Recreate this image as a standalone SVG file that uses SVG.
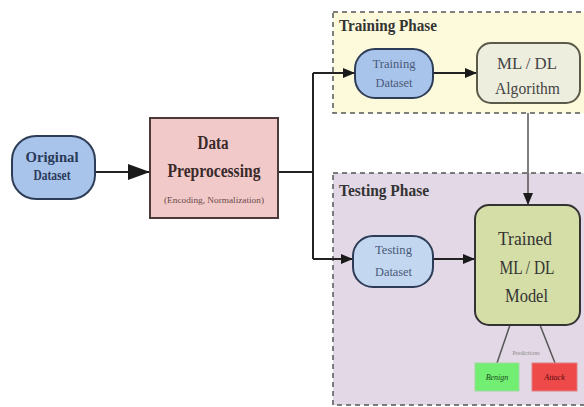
<svg xmlns="http://www.w3.org/2000/svg" width="584" height="407" viewBox="0 0 584 407">
<style>
.phase{stroke:#555;stroke-width:1.5;stroke-dasharray:5 4}
.t{font-family:"Liberation Serif","Times New Roman",serif;text-anchor:middle;dominant-baseline:central}
.title{font-family:"Liberation Serif","Times New Roman",serif;font-weight:bold;font-size:16px;fill:#333}
.c{fill:none;stroke:#222;stroke-width:2}
</style>
<defs>
<marker id="ah" markerWidth="12" markerHeight="10" refX="12" refY="5" orient="auto" markerUnits="userSpaceOnUse">
<path d="M0,0 L12,5 L0,10 Z" fill="#1a1a1a"/>
</marker>
<marker id="ahBig" markerWidth="22" markerHeight="16" refX="22" refY="8" orient="auto" markerUnits="userSpaceOnUse">
<path d="M0,0 L22,8 L0,16 Z" fill="#1a1a1a"/>
</marker>
</defs>
<rect width="584" height="407" fill="#ffffff"/>

<g id="training-phase">
<rect class="phase" x="333" y="12" width="262" height="101" fill="#fdfadc"/>
<text class="title" x="339" y="31" textLength="98" lengthAdjust="spacingAndGlyphs">Training Phase</text>
</g>
<g id="testing-phase">
<rect class="phase" x="333" y="173" width="262" height="232" fill="#e3d8e6"/>
<text class="title" x="339" y="196" textLength="90" lengthAdjust="spacingAndGlyphs">Testing Phase</text>
</g>

<g id="connectors">
<line class="c" x1="95" y1="172" x2="150" y2="172" marker-end="url(#ahBig)"/>
<polyline class="c" points="278,172 313,172"/>
<polyline class="c" points="313,73 313,259"/>
<line class="c" x1="313" y1="73" x2="355" y2="73" marker-end="url(#ah)"/>
<line class="c" x1="313" y1="259" x2="353" y2="259" marker-end="url(#ah)"/>
<line class="c" x1="433" y1="73" x2="477" y2="73" marker-end="url(#ah)"/>
<line class="c" x1="433" y1="259" x2="475" y2="259" marker-end="url(#ah)"/>
<line x1="528" y1="113" x2="528" y2="205" stroke="#555" stroke-width="1.5" marker-end="url(#ah)"/>
<line x1="510" y1="325" x2="497" y2="363" stroke="#555" stroke-width="1.5"/>
<line x1="540" y1="325" x2="555" y2="363" stroke="#555" stroke-width="1.5"/>
</g>

<g id="original-dataset">
<rect x="12" y="136" width="83" height="63" rx="24" fill="#a9c4ea" stroke="#2e3d57" stroke-width="2"/>
<text class="t" x="52" y="157" font-size="14" font-weight="bold" fill="#2a3a5a" textLength="53" lengthAdjust="spacingAndGlyphs">Original</text>
<text class="t" x="52" y="175" font-size="14" font-weight="bold" fill="#2a3a5a" textLength="37" lengthAdjust="spacingAndGlyphs">Dataset</text>
</g>

<g id="data-preprocessing">
<rect x="150" y="118" width="128" height="100" fill="#f2c9c9" stroke="#4a3a3a" stroke-width="2"/>
<text class="t" x="213" y="143" font-size="18" font-weight="bold" fill="#3a2a2a" textLength="31" lengthAdjust="spacingAndGlyphs">Data</text>
<text class="t" x="214" y="171" font-size="18" font-weight="bold" fill="#3a2a2a" textLength="93" lengthAdjust="spacingAndGlyphs">Preprocessing</text>
<text class="t" x="214" y="200" font-size="9" fill="#6a4a4a" textLength="100" lengthAdjust="spacingAndGlyphs">(Encoding, Normalization)</text>
</g>

<g id="training-dataset">
<rect x="355" y="49" width="78" height="49" rx="20" fill="#a9c4ea" stroke="#2e3d57" stroke-width="2"/>
<text class="t" x="394" y="64" font-size="12" fill="#4a5a7a" textLength="43" lengthAdjust="spacingAndGlyphs">Training</text>
<text class="t" x="394" y="83" font-size="12" fill="#4a5a7a" textLength="37" lengthAdjust="spacingAndGlyphs">Dataset</text>
</g>

<g id="ml-dl-algorithm">
<rect x="477" y="43" width="103" height="60" rx="14" fill="#eeeedf" stroke="#5a5a48" stroke-width="2"/>
<text class="t" x="527" y="63" font-size="17" fill="#444" textLength="60" lengthAdjust="spacingAndGlyphs">ML / DL</text>
<text class="t" x="527.5" y="88" font-size="17" fill="#444" textLength="65" lengthAdjust="spacingAndGlyphs">Algorithm</text>
</g>

<g id="testing-dataset">
<rect x="353" y="236" width="80" height="51" rx="20" fill="#c3d8f0" stroke="#2e3d57" stroke-width="2"/>
<text class="t" x="393.5" y="250" font-size="12" fill="#4a5a7a" textLength="37" lengthAdjust="spacingAndGlyphs">Testing</text>
<text class="t" x="393.5" y="272" font-size="12" fill="#4a5a7a" textLength="37" lengthAdjust="spacingAndGlyphs">Dataset</text>
</g>

<g id="trained-model">
<rect x="475" y="205" width="105" height="120" rx="14" fill="#d4dea6" stroke="#333" stroke-width="2"/>
<text class="t" x="525" y="238" font-size="19" fill="#333" textLength="54" lengthAdjust="spacingAndGlyphs">Trained</text>
<text class="t" x="527" y="267" font-size="19" fill="#333" textLength="55" lengthAdjust="spacingAndGlyphs">ML / DL</text>
<text class="t" x="526.5" y="295" font-size="19" fill="#333" textLength="43" lengthAdjust="spacingAndGlyphs">Model</text>
</g>

<g id="predictions-label">
<text class="t" x="526" y="353" font-size="6" fill="#888">Predictions</text>
</g>

<g id="benign">
<rect x="475" y="363" width="44" height="28" fill="#72ee72" stroke="#a0d8a0" stroke-width="1"/>
<text class="t" x="497" y="377" font-size="8" font-style="italic" fill="#1a4a1a">Benign</text>
</g>

<g id="attack">
<rect x="532" y="363" width="45" height="28" fill="#ee4a4a" stroke="#e08080" stroke-width="1"/>
<text class="t" x="554.5" y="377" font-size="8" font-style="italic" fill="#5a0a0a">Attack</text>
</g>
</svg>
